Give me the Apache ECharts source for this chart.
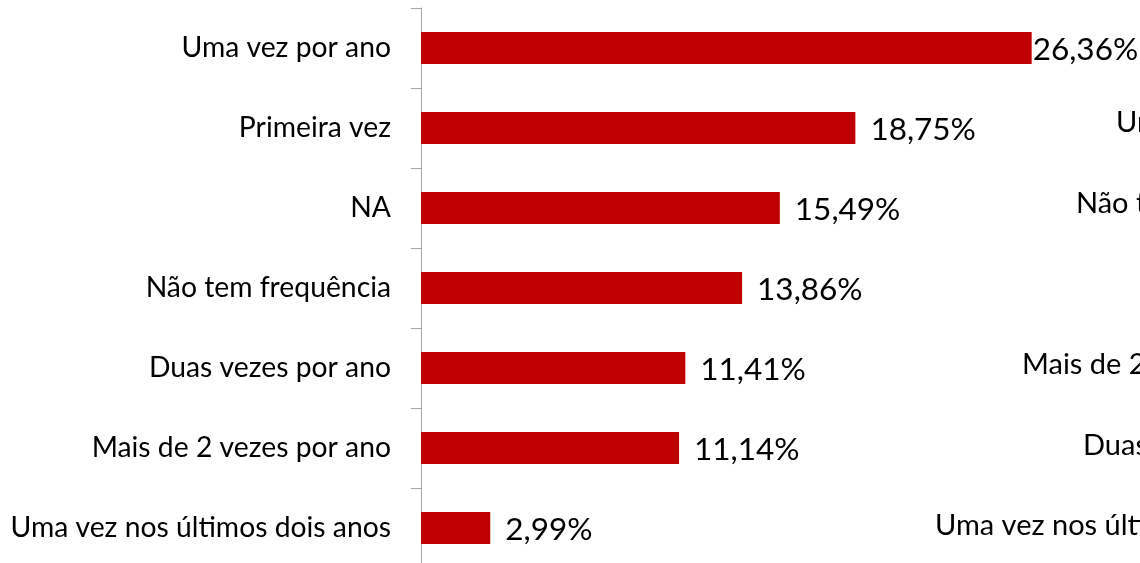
<!DOCTYPE html>
<html>
<head>
<meta charset="utf-8">
<script src="https://cdn.jsdelivr.net/npm/echarts@6/dist/echarts.min.js"></script>
<style>
  html, body { margin: 0; padding: 0; background: #fff; overflow: hidden; }
  /* the plot runs a few pixels past the bottom of the view */
  #chart { width: 1140px; height: 568px; }
</style>
</head>
<body>
<div id="chart"></div>
<script>
// Frequência de participação (%)
const categories = [
  'Uma vez por ano',
  'Primeira vez',
  'NA',
  'Não tem frequência',
  'Duas vezes por ano',
  'Mais de 2 vezes por ano',
  'Uma vez nos últimos dois anos'
];
const values = [26.36, 18.75, 15.49, 13.86, 11.41, 11.14, 2.99];

// Labels of the neighbouring panel, cut off by the right edge
const sideLabels = [
  'Uma vez por ano',
  'Não tem frequência',
  'Mais de 2 vezes por ano',
  'Duas vezes por ano',
  'Uma vez nos últimos dois anos'
];

const FONT = 'Lato, "Open Sans", sans-serif';

const chart = echarts.init(document.getElementById('chart'), null, { renderer: 'canvas' });

const barData = values.map((v, i) => ({
  value: v,
  label: i === 0 ? { distance: 1 } : undefined
}));

const sidePos = [
  { x: 1116, y: 123 },
  { x: 1076, y: 204 },
  { x: 1022, y: 365 },
  { x: 1083, y: 446 },
  { x: 935, y: 526 }
];

chart.setOption({
  animation: false,
  backgroundColor: '#ffffff',
  grid: { left: 421, top: 8, right: 24, bottom: 0, containLabel: false },
  xAxis: {
    type: 'value',
    min: 0,
    max: 30,
    show: false
  },
  yAxis: {
    type: 'category',
    data: categories,
    inverse: true,
    axisLine: { show: true, lineStyle: { color: '#a6a6a6', width: 1 } },
    axisTick: { show: true, length: 10, lineStyle: { color: '#a6a6a6', width: 1 } },
    axisLabel: {
      margin: 30,
      color: '#000',
      fontFamily: FONT,
      fontSize: 28.3
    },
    splitLine: { show: false }
  },
  series: [{
    type: 'bar',
    data: barData,
    barWidth: 32,
    itemStyle: { color: '#c00000' },
    label: {
      show: true,
      position: 'right',
      distance: 15,
      color: '#000',
      fontFamily: FONT,
      fontSize: 31.5,
      offset: [0, 2],
      formatter: p => p.value.toFixed(2).replace('.', ',') + '%'
    }
  }],
  graphic: sideLabels.map((t, i) => ({
    type: 'text',
    x: sidePos[i].x,
    y: sidePos[i].y,
    style: {
      text: t,
      fill: '#000',
      font: '29px ' + FONT,
      textVerticalAlign: 'middle'
    }
  }))
});
</script>
</body>
</html>
